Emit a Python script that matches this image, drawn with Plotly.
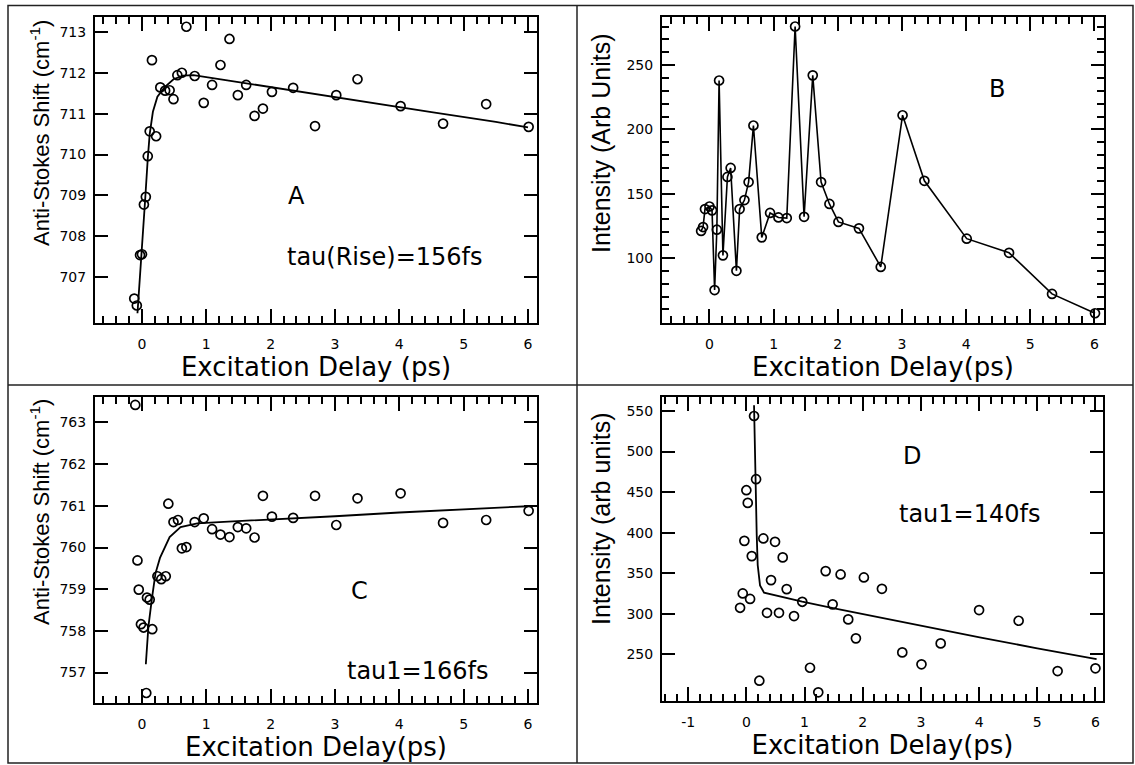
import plotly.graph_objects as go

W, H = 1135, 765
FONT_H = "DejaVu Sans, Liberation Sans, Arial, sans-serif"   # horizontal texts
FONT_V = "Liberation Sans, Arial, sans-serif"                # rotated axis titles

# ---------------- data ----------------
a_x = [-0.12, -0.08, -0.03, 0.0, 0.03, 0.06, 0.09, 0.12, 0.155, 0.22, 0.285, 0.36, 0.43, 0.49,
       0.55, 0.62, 0.69, 0.82, 0.96, 1.09, 1.22, 1.36, 1.49, 1.62, 1.75, 1.88, 2.02, 2.35, 2.69,
       3.02, 3.35, 4.02, 4.68, 5.35, 6.01]
a_y = [706.46, 706.29, 707.53, 707.55, 708.77, 708.96, 709.96, 710.57, 712.32, 710.45, 711.65,
       711.57, 711.58, 711.36, 711.95, 712.01, 713.14, 711.93, 711.27, 711.71, 712.2, 712.84,
       711.46, 711.71, 710.95, 711.13, 711.54, 711.64, 710.70, 711.46, 711.85, 711.19, 710.76,
       711.24, 710.68]
a_fit_x = [-0.07, 0.0, 0.05, 0.09, 0.12, 0.17, 0.24, 0.35, 0.49, 0.64, 0.8, 1.5, 2.5, 3.5, 4.5, 5.5, 6.0]
a_fit_y = [706.1, 707.6, 708.9, 709.9, 710.5, 711.05, 711.42, 711.65, 711.85, 711.94, 711.95,
           711.78, 711.53, 711.29, 711.04, 710.8, 710.67]

b_x = [-0.13, -0.10, -0.07, 0.0, 0.04, 0.08, 0.115, 0.15, 0.21, 0.28, 0.33, 0.42, 0.47, 0.545,
       0.61, 0.685, 0.815, 0.945, 1.075, 1.205, 1.335, 1.475, 1.61, 1.74, 1.87, 2.01, 2.33, 2.67,
       3.01, 3.35, 4.01, 4.67, 5.34, 6.01]
b_y = [121, 124, 138, 140, 137, 75, 122, 238, 102, 163, 170, 90, 138, 145, 159, 203, 116, 135,
       131.5, 131, 280, 132, 242, 159, 142, 128, 123, 93, 211, 160, 115, 104, 72, 57]

c_x = [-0.104, -0.07, -0.05, -0.016, 0.025, 0.067, 0.078, 0.12, 0.16, 0.24, 0.30, 0.37, 0.41,
       0.49, 0.56, 0.62, 0.69, 0.82, 0.96, 1.09, 1.22, 1.36, 1.49, 1.62, 1.75, 1.88, 2.02, 2.35,
       2.69, 3.02, 3.35, 4.02, 4.68, 5.35, 6.01]
c_y = [763.42, 759.69, 758.99, 758.16, 758.08, 756.51, 758.80, 758.75, 758.04, 759.31, 759.24,
       759.31, 761.05, 760.61, 760.66, 759.98, 760.01, 760.61, 760.70, 760.44, 760.31, 760.25,
       760.49, 760.46, 760.24, 761.24, 760.74, 760.71, 761.24, 760.54, 761.18, 761.30, 760.59,
       760.66, 760.88]
c_fit_x = [0.06, 0.10, 0.155, 0.21, 0.28, 0.35, 0.43, 0.6, 0.86, 1.2, 2.0, 3.0, 4.0, 5.0, 6.0]
c_fit_y = [757.2, 758.1, 758.78, 759.38, 759.75, 760.0, 760.25, 760.49, 760.58, 760.61, 760.67,
           760.75, 760.84, 760.92, 760.99]

d_x = [-0.108, -0.062, -0.034, 0.0, 0.024, 0.064, 0.093, 0.132, 0.167, 0.223, 0.292, 0.355,
       0.424, 0.493, 0.561, 0.625, 0.693, 0.819, 0.961, 1.094, 1.236, 1.363, 1.483, 1.62, 1.751,
       1.883, 2.02, 2.33, 2.68, 3.01, 3.34, 4.0, 4.68, 5.35, 6.0]
d_y = [307.4, 325.1, 389.9, 452.3, 436.7, 318.3, 371.1, 543.8, 465.9, 217.5, 392.9, 301.2, 341.5,
       388.7, 301.2, 369.5, 330.4, 297.2, 314.8, 233.5, 203.2, 352.6, 311.6, 348.5, 293.1, 269.7,
       344.8, 330.8, 252.4, 237.7, 263.5, 304.6, 291.4, 229.4, 232.8]
d_fit_x = [0.132, 0.149, 0.167, 0.178, 0.195, 0.235, 0.304, 0.635, 0.96, 1.49, 2.12, 3.0, 4.01, 5.0, 6.02]
d_fit_y = [557, 479, 430, 397, 360, 335, 326, 320, 315, 307, 298, 285, 271, 257.5, 244]

# tick values / labels
a_yticks = [707, 708, 709, 710, 711, 712, 713]
b_yticks = [100, 150, 200, 250]
b_yminor = [60, 70, 80, 90, 110, 120, 130, 140, 160, 170, 180, 190, 210, 220, 230, 240, 260, 270, 280]
c_yticks = [757, 758, 759, 760, 761, 762, 763]
d_yticks = [250, 300, 350, 400, 450, 500, 550]
x_ticks = [0, 1, 2, 3, 4, 5, 6]
d_xticks = [-1, 0, 1, 2, 3, 4, 5, 6]
d_xticktext = ["-1", "0", "1", "2", "3", "4", "5", "6"]

# ---------------- figure ----------------
fig = go.Figure()
mk = dict(symbol="circle-open", size=9, color="black", line=dict(width=1.7, color="black"))
fitline = dict(color="black", width=1.8)

fig.add_trace(go.Scatter(x=a_x, y=a_y, mode="markers", marker=mk, xaxis="x", yaxis="y"))
fig.add_trace(go.Scatter(x=a_fit_x, y=a_fit_y, mode="lines", line=fitline, xaxis="x", yaxis="y"))
fig.add_trace(go.Scatter(x=b_x, y=b_y, mode="lines+markers", marker=mk,
                         line=dict(color="black", width=1.6), xaxis="x2", yaxis="y2"))
fig.add_trace(go.Scatter(x=c_x, y=c_y, mode="markers", marker=mk, xaxis="x3", yaxis="y3"))
fig.add_trace(go.Scatter(x=c_fit_x, y=c_fit_y, mode="lines", line=fitline, xaxis="x3", yaxis="y3"))
fig.add_trace(go.Scatter(x=d_x, y=d_y, mode="markers", marker=mk, xaxis="x4", yaxis="y4"))
fig.add_trace(go.Scatter(x=d_fit_x, y=d_fit_y, mode="lines", line=fitline, xaxis="x4", yaxis="y4"))


def px_x(p):
    return p / W


def px_y(p):
    return 1 - p / H


def xax(domain, rng, anchor, title, tickvals, ticktext=None):
    return dict(domain=domain, range=rng, anchor=anchor, showline=True, linewidth=2, linecolor="black",
                mirror="ticks", ticks="inside", ticklen=14, tickwidth=2, tickcolor="black",
                tickmode="array", tickvals=tickvals, ticktext=ticktext or [str(v) for v in tickvals],
                showgrid=False, zeroline=False,
                tickfont=dict(family=FONT_H, size=14, color="black"), ticklabelstandoff=7,
                minor=dict(ticks="inside", ticklen=7, tickwidth=1.5, tickcolor="black",
                           dtick=0.2, tick0=0, showgrid=False),
                title=dict(text=title, font=dict(family=FONT_H, size=26, color="black"), standoff=3))


def yax(domain, rng, anchor, tickvals, minorvals=None):
    d = dict(domain=domain, range=rng, anchor=anchor, showline=True, linewidth=2, linecolor="black",
             mirror="ticks", ticks="inside", ticklen=13, tickwidth=2, tickcolor="black",
             tickmode="array", tickvals=tickvals, showgrid=False, zeroline=False,
             tickfont=dict(family=FONT_H, size=14, color="black"), ticklabelstandoff=4)
    if minorvals:
        d["minor"] = dict(ticks="inside", ticklen=7, tickwidth=1.5, tickcolor="black",
                          tickmode="array", tickvals=minorvals, showgrid=False)
    return d


xa = xax([px_x(95), px_x(537)], [-0.73, 6.14], "y", "Excitation Delay (ps)", x_ticks)
ya = yax([px_y(323), px_y(17)], [705.86, 713.38], "x", a_yticks)

xb = xax([px_x(662), px_x(1104)], [-0.74, 6.15], "y2", "Excitation Delay(ps)", x_ticks)
yb = yax([px_y(323), px_y(17)], [49.4, 287.4], "x2", b_yticks, minorvals=b_yminor)

xc = xax([px_x(95), px_x(537)], [-0.73, 6.14], "y3", "Excitation Delay(ps)", x_ticks)
yc = yax([px_y(703), px_y(397)], [756.27, 763.61], "x3", c_yticks)

xd = xax([px_x(662), px_x(1103)], [-1.45, 6.13], "y4", "Excitation Delay(ps)", d_xticks, d_xticktext)
yd = yax([px_y(701), px_y(397)], [192.5, 567.2], "x4", d_yticks)

ann_font = dict(family=FONT_H, size=24, color="black")
annotations = [
    dict(x=2.40, y=708.98, xref="x", yref="y", text="A", showarrow=False, font=ann_font),
    dict(x=3.77, y=707.48, xref="x", yref="y", text="tau(Rise)=156fs", showarrow=False, font=ann_font),
    dict(x=4.48, y=231.4, xref="x2", yref="y2", text="B", showarrow=False, font=ann_font),
    dict(x=3.38, y=758.95, xref="x3", yref="y3", text="C", showarrow=False, font=ann_font),
    dict(x=4.28, y=757.04, xref="x3", yref="y3", text="tau1=166fs", showarrow=False, font=ann_font),
    dict(x=2.84, y=494.2, xref="x4", yref="y4", text="D", showarrow=False, font=ann_font),
    dict(x=3.84, y=422.8, xref="x4", yref="y4", text="tau1=140fs", showarrow=False, font=ann_font),
]

# rotated y-axis titles (placed where the reference shows them)
ytitles = [
    ("Anti-Stokes Shift (cm<sup>-1</sup>)", 40, 133, 22),
    ("Intensity (Arb Units)", 601, 143, 25),
    ("Anti-Stokes Shift (cm<sup>-1</sup>)", 40, 512, 22),
    ("Intensity (arb units)", 601, 519, 25),
]
for txt, cx, cy, sz in ytitles:
    annotations.append(dict(x=px_x(cx), y=px_y(cy), xref="paper", yref="paper", text=txt,
                            textangle=-90, showarrow=False, xanchor="center", yanchor="middle",
                            font=dict(family=FONT_V, size=sz, color="black")))

border = dict(color="#222222", width=1.5)
shapes = [
    dict(type="rect", xref="paper", yref="paper", x0=px_x(8), x1=px_x(1133), y0=px_y(763), y1=px_y(5.5),
         line=border, layer="below"),
    dict(type="line", xref="paper", yref="paper", x0=px_x(577), x1=px_x(577), y0=px_y(763), y1=px_y(5.5),
         line=border),
    dict(type="line", xref="paper", yref="paper", x0=px_x(8), x1=px_x(1133), y0=px_y(385), y1=px_y(385),
         line=border),
]

fig.update_layout(width=W, height=H, margin=dict(l=0, r=0, t=0, b=0),
                  paper_bgcolor="white", plot_bgcolor="white",
                  xaxis=xa, yaxis=ya, xaxis2=xb, yaxis2=yb, xaxis3=xc, yaxis3=yc, xaxis4=xd, yaxis4=yd,
                  annotations=annotations, shapes=shapes, showlegend=False,
                  font=dict(family=FONT_H, color="black"))

fig.write_html("out.html")
